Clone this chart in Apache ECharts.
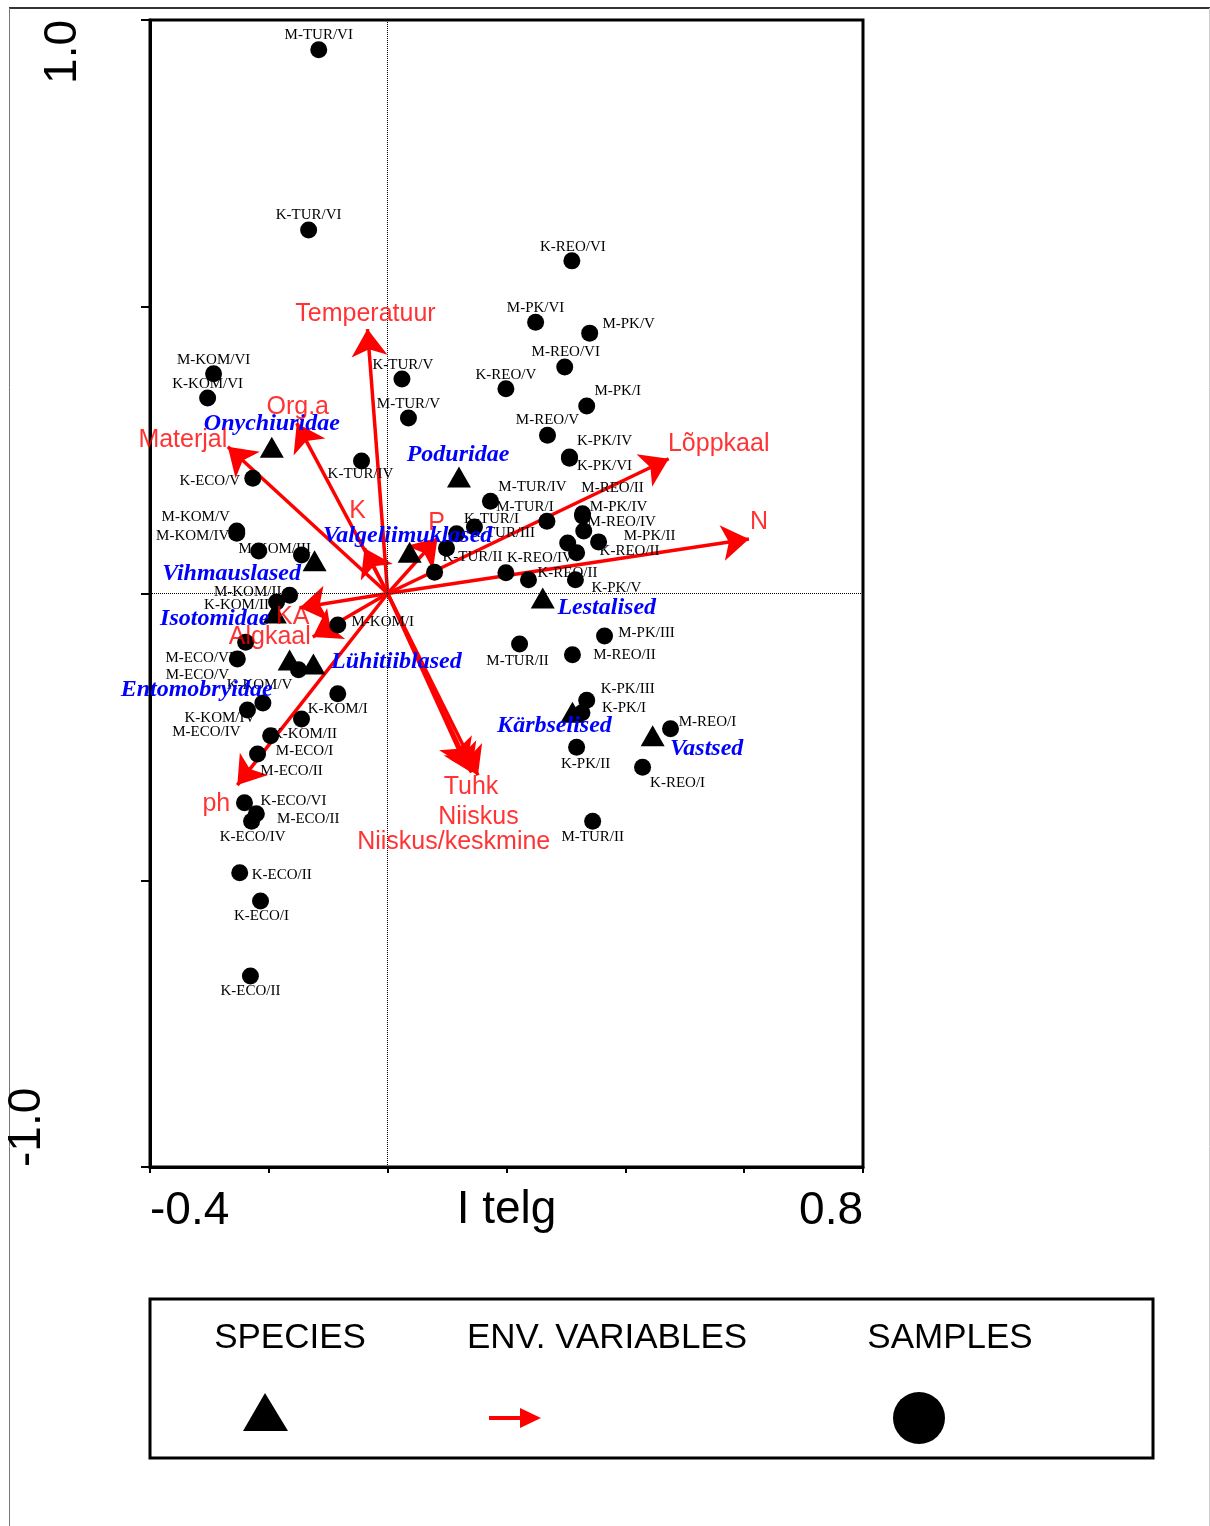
<!DOCTYPE html>
<html>
<head>
<meta charset="utf-8">
<title>CCA ordinatsioon</title>
<script src="https://cdn.jsdelivr.net/npm/echarts@6.0.0/dist/echarts.min.js"></script>
<style>
  html, body { margin: 0; padding: 0; background: #fff; }
  #chart { width: 1210px; height: 1526px; }
</style>
</head>
<body>
<div id="chart"></div>
<script>
// samples (proovid)
var sampleNames = [
  "M-TUR/VI", "K-TUR/VI", "K-REO/VI", "M-PK/VI", "M-PK/V", "M-REO/VI", "K-REO/V", "M-PK/I",
  "M-REO/V", "K-PK/IV", "K-PK/VI", "M-KOM/VI", "K-KOM/VI", "K-TUR/V", "M-TUR/V", "K-ECO/V",
  "K-TUR/IV", "M-KOM/V", "M-KOM/IV", "M-KOM/III", "K-KOM/III", "M-TUR/IV", "M-TUR/I", "K-TUR/I",
  "K-TUR/III", "K-TUR/II", "M-TUR/III", "M-REO/II", "M-PK/IV", "M-REO/IV", "M-PK/II", "K-REO/II",
  "K-REO/III", "K-REO/IV", "K-REO/II", "K-PK/V", "M-KOM/II", "K-KOM/II", "M-KOM/I", "M-ECO/VI",
  "M-ECO/V", "K-KOM/V", "K-KOM/IV", "M-ECO/IV", "K-KOM/I", "K-KOM/II", "M-ECO/I", "M-ECO/II",
  "K-ECO/VI", "M-ECO/II", "K-ECO/IV", "K-ECO/II", "K-ECO/I", "K-ECO/II", "M-PK/III", "M-TUR/II",
  "M-REO/II", "K-PK/III", "K-PK/I", "M-REO/I", "K-PK/II", "K-REO/I", "M-TUR/II"
];
var sampleX = [
  -0.116, -0.133, 0.310, 0.249, 0.340, 0.298, 0.199, 0.335,
  0.269, 0.306, 0.306, -0.293, -0.303, 0.024, 0.035, -0.227,
  -0.044, -0.254, -0.254, -0.217, -0.145, 0.173, 0.268, 0.146,
  0.116, 0.099, 0.079, 0.328, 0.328, 0.330, 0.355, 0.318,
  0.303, 0.199, 0.237, 0.316, -0.165, -0.187, -0.084, -0.239,
  -0.253, -0.150, -0.210, -0.236, -0.084, -0.145, -0.197, -0.219,
  -0.241, -0.221, -0.229, -0.249, -0.214, -0.231, 0.365, 0.222,
  0.311, 0.335, 0.327, 0.476, 0.318, 0.429, 0.345
];
var sampleY = [
  0.948, 0.634, 0.580, 0.473, 0.454, 0.395, 0.357, 0.327,
  0.276, 0.238, 0.236, 0.383, 0.341, 0.374, 0.306, 0.201,
  0.231, 0.109, 0.105, 0.074, 0.067, 0.161, 0.126, 0.116,
  0.104, 0.079, 0.037, 0.139, 0.135, 0.109, 0.090, 0.071,
  0.088, 0.036, 0.024, 0.024, -0.003, -0.015, -0.055, -0.085,
  -0.114, -0.133, -0.191, -0.203, -0.175, -0.219, -0.248, -0.280,
  -0.365, -0.384, -0.397, -0.487, -0.536, -0.667, -0.074, -0.088,
  -0.107, -0.186, -0.208, -0.236, -0.268, -0.303, -0.397
];

// liigid
var speciesNames = ["Onychiuridae", "Poduridae", "Valgeliimuklased", "Vihmauslased", "Isotomidae",
  "Entomobryidae", "Lühitiiblased", "Lestalised", "Kärbselised", "Vastsed"];
var speciesX = [-0.195, 0.120, 0.037, -0.123, -0.190, -0.165, -0.125, 0.261, 0.311, 0.446];
var speciesY = [0.255, 0.203, 0.072, 0.057, -0.034, -0.116, -0.123, -0.008, -0.207, -0.248];

// keskkonnamuutujad
var envNames = ["Temperatuur", "Org.a", "Materjal", "K", "P", "Lõppkaal", "N", "KA", "Algkaal",
  "ph", "Tuhk", "Niiskus", "Niiskus/keskmine"];
var envX = [-0.034, -0.153, -0.269, -0.039, 0.084, 0.473, 0.608, -0.148, -0.126, -0.253, 0.152, 0.141, 0.133];
var envY = [0.461, 0.297, 0.256, 0.079, 0.097, 0.235, 0.095, -0.025, -0.076, -0.334, -0.317, -0.312, -0.303];

var xTickLabels = ["-0.4", "0.8"];
var yTickLabels = ["-1.0", "1.0"];

// label placement (px from the mark), null = label hidden under other marks
var sampleLabelOffsets = [
  [0, -15], [0, -15], [1, -14], [0, -14], [39, -9], [1, -15], [0, -14], [31, -15],
  [0, -15], [35, -16], [35, 8], [0, -14], [0, -14], [1, -14], [0, -14], [-43, 3],
  [-1, 13], [-41, -14], [-44, 3], [16, -2], null, [42, -14], [-22, -14], [17, -8],
  [46, -1], [26, 9], null, [30, -26], [36, -9], [38, -9], [51, -6], [53, -2],
  null, [34, -15], [39, -7], [41, 8], [-42, -3], [-40, 3], [45, -3], [-46, 16],
  [-40, 16], [-39, 15], [-43, 15], [-41, 22], [0, 15], [3, 15], [34, 15], [34, 17],
  [49, -2], [52, 5], [1, 16], [42, 2], [1, 15], [0, 15], [42, -3], [-2, 17],
  [52, 0], [41, -11], [42, -5], [37, -7], [9, 17], [35, 16], [0, 16]
];
var speciesLabelOffsets = [[0, -23], [-1, -22], [-2, -16], [-83, 13], [-60, 6], [-93, 30], [83, -2],
  [64, 10], [-18, 14], [54, 13]];
var envLabelOffsets = [[-2, -15], [1, -16], [-45, -7], [-7, -37], [-1, -15], [50, -15], [10, -17],
  [-7, 9], [-43, 0], [-21, 19], [-7, 12], [7, 45], [-13, 75]];

var SANS = "'Liberation Sans', Arial, sans-serif";
var SERIF = "'Liberation Serif', 'Times New Roman', serif";

var chart = echarts.init(document.getElementById("chart"));

var option = {
  animation: false,
  backgroundColor: "#fff",
  grid: {
    left: 150,
    top: 20,
    width: 713,
    height: 1147,
    show: true,
    borderColor: "#000",
    borderWidth: 3,
  },
  xAxis: {
    type: "value",
    min: -0.4,
    max: 0.8,
    interval: 0.2,
    name: "I telg",
    nameLocation: "middle",
    nameGap: 20,
    nameMoveOverlap: false,
    nameTextStyle: { fontFamily: SANS, fontSize: 46, color: "#000", verticalAlign: "top" },
    axisLine: { onZero: false, lineStyle: { color: "#000", width: 3 } },
    axisTick: { length: 6, lineStyle: { color: "#000", width: 2 } },
    axisLabel: {
      margin: 21,
      fontFamily: SANS,
      fontSize: 46,
      color: "#000",
      alignMinLabel: "left",
      alignMaxLabel: "right",
      formatter: function (v) {
        var s = v.toFixed(1);
        return xTickLabels.indexOf(s) >= 0 ? s : "";
      },
    },
    splitLine: { show: false },
  },
  yAxis: {
    type: "value",
    min: -1,
    max: 1,
    interval: 0.5,
    axisLine: { onZero: false, lineStyle: { color: "#000", width: 3 } },
    axisTick: { length: 9, lineStyle: { color: "#000", width: 2 } },
    axisLabel: {
      rotate: 90,
      margin: 64,
      fontFamily: SANS,
      fontSize: 46,
      color: "#000",
      alignMinLabel: "left",
      alignMaxLabel: "right",
      formatter: function (v) {
        var s = v.toFixed(1);
        if (yTickLabels.indexOf(s) < 0) return "";
        return v < 0 ? "{lo|" + s + "}" : "{hi|" + s + "}";
      },
      rich: {
        lo: { fontFamily: SANS, fontSize: 46, color: "#000", padding: [0, 6, 36, 0] },
        hi: { fontFamily: SANS, fontSize: 46, color: "#000", padding: [0, 0, 0, 7] },
      },
    },
    splitLine: { show: false },
  },
  series: [
    {
      name: "ENV. VARIABLES",
      type: "lines",
      coordinateSystem: "cartesian2d",
      z: 2,
      symbol: ["none", "arrow"],
      symbolSize: 27,
      lineStyle: { color: "#ff0000", width: 3.5, opacity: 1 },
      data: envNames.map(function (n, i) {
        return { name: n, coords: [[0, 0], [envX[i], envY[i]]] };
      }),
    },
    {
      name: "SAMPLES",
      type: "scatter",
      z: 3,
      symbol: "circle",
      symbolSize: 17,
      itemStyle: { color: "#000", opacity: 1 },
      label: {
        show: true,
        position: "inside",
        formatter: "{b}",
        fontFamily: SERIF,
        fontSize: 15,
        color: "#000",
      },
      markLine: {
        silent: true,
        symbol: "none",
        label: { show: false },
        lineStyle: { type: "dotted", color: "#000", width: 1 },
        data: [{ xAxis: 0 }, { yAxis: 0 }],
      },
      data: sampleNames.map(function (n, i) {
        var off = sampleLabelOffsets[i];
        return {
          name: n,
          value: [sampleX[i], sampleY[i]],
          label: off ? { offset: off } : { show: false },
        };
      }),
    },
    {
      name: "SPECIES",
      type: "scatter",
      z: 4,
      symbol: "triangle",
      symbolSize: [24, 21],
      itemStyle: { color: "#000", opacity: 1 },
      label: {
        show: true,
        position: "inside",
        formatter: "{b}",
        fontFamily: SERIF,
        fontSize: 24,
        fontStyle: "italic",
        fontWeight: "bold",
        color: "#0000ff",
      },
      data: speciesNames.map(function (n, i) {
        return { name: n, value: [speciesX[i], speciesY[i]], label: { offset: speciesLabelOffsets[i] } };
      }),
    },
    {
      // arrow tip labels
      name: "env-labels",
      type: "scatter",
      z: 5,
      symbolSize: 0,
      silent: true,
      label: {
        show: true,
        position: "inside",
        formatter: "{b}",
        fontFamily: SANS,
        fontSize: 25,
        color: "#ff0000",
      },
      data: envNames.map(function (n, i) {
        return { name: n, value: [envX[i], envY[i]], label: { offset: envLabelOffsets[i] } };
      }),
    },
  ],
  graphic: [
    // page frame
    { type: "line", shape: { x1: 9, y1: 8, x2: 1210, y2: 8 }, style: { stroke: "#333", lineWidth: 2 } },
    { type: "line", shape: { x1: 9.5, y1: 8, x2: 9.5, y2: 1526 }, style: { stroke: "#777", lineWidth: 1 } },
    { type: "line", shape: { x1: 1209.5, y1: 8, x2: 1209.5, y2: 1526 }, style: { stroke: "#ccc", lineWidth: 1 } },
    // legend box
    {
      type: "group",
      children: [
        { type: "rect", shape: { x: 150, y: 1299, width: 1003, height: 159 }, style: { fill: "#fff", stroke: "#000", lineWidth: 3 } },
        { type: "text", x: 290, y: 1338, style: { text: "SPECIES", font: "35px " + SANS, fill: "#000", align: "center", verticalAlign: "middle" } },
        { type: "text", x: 607, y: 1338, style: { text: "ENV. VARIABLES", font: "35px " + SANS, fill: "#000", align: "center", verticalAlign: "middle" } },
        { type: "text", x: 950, y: 1338, style: { text: "SAMPLES", font: "35px " + SANS, fill: "#000", align: "center", verticalAlign: "middle" } },
        { type: "polygon", shape: { points: [[265, 1393], [288, 1431], [243, 1431]] }, style: { fill: "#000" } },
        { type: "line", shape: { x1: 489, y1: 1418, x2: 524, y2: 1418 }, style: { stroke: "#ff0000", lineWidth: 4 } },
        { type: "polygon", shape: { points: [[520, 1408], [541, 1418], [520, 1428]] }, style: { fill: "#ff0000" } },
        { type: "circle", shape: { cx: 919, cy: 1418, r: 26 }, style: { fill: "#000" } },
      ],
    },
  ],
};

chart.setOption(option);
window.onresize = chart.resize;
</script>
</body>
</html>
